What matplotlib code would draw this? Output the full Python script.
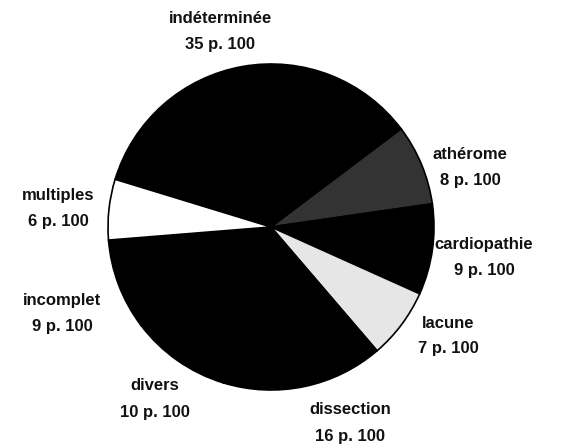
import matplotlib
matplotlib.use("Agg")
import matplotlib.pyplot as plt

categories = ["indéterminée", "athérome", "cardiopathie", "lacune",
              "dissection", "divers", "incomplet", "multiples"]
values = [35, 8, 9, 7, 16, 10, 9, 6]
colors = ["#000000", "#333333", "#000000", "#e6e6e6",
          "#000000", "#000000", "#000000", "#ffffff"]

# label anchor positions (pixel coords, y from top)
label_pos = {
    "indéterminée": (220, 18),
    "athérome": (470, 154),
    "cardiopathie": (484, 244),
    "lacune": (448, 323),
    "dissection": (350, 410),
    "divers": (155, 386),
    "incomplet": (62, 300),
    "multiples": (58, 195),
}

W, H = 563, 448
fig = plt.figure(figsize=(W / 100, H / 100), dpi=100)
ax = fig.add_axes([0, 0, 1, 1])

cx, cy, r = 271, H - 227, 163
ax.pie(values, colors=colors, startangle=163, counterclock=False,
       center=(cx, cy), radius=r, frame=True,
       wedgeprops=dict(linewidth=1.2, edgecolor="#000000"))
ax.set_xlim(0, W)
ax.set_ylim(0, H)
ax.set_aspect("equal")
ax.axis("off")

for cat, v in zip(categories, values):
    x, y = label_pos[cat]
    ax.text(x, H - y, cat, ha="center", va="center", fontsize=12,
            family="Liberation Sans", fontweight="bold", color="#111111")
    ax.text(x, H - y - 26, f"{v} p. 100", ha="center", va="center",
            fontsize=12, family="Liberation Sans", fontweight="bold",
            color="#111111")

fig.savefig("out.png", dpi=100)
